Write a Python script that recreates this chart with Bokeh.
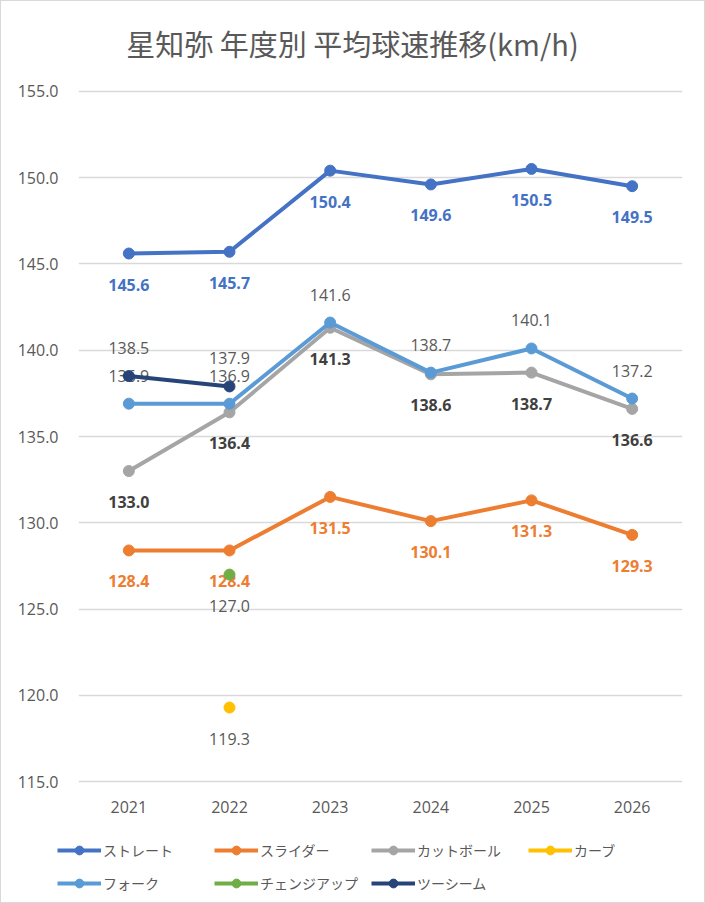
import math
from bokeh.plotting import figure
from bokeh.layouts import column, row
from bokeh.models import (Range1d, FixedTicker, PrintfTickFormatter, Label,
                          Legend, LegendItem, ColumnDataSource)
from bokeh.core.properties import value
from bokeh.embed import file_html
from bokeh.resources import INLINE

NaN = float("nan")

years = ["2021", "2022", "2023", "2024", "2025", "2026"]
straight = [145.6, 145.7, 150.4, 149.6, 150.5, 149.5]
slider = [128.4, 128.4, 131.5, 130.1, 131.3, 129.3]
cutball = [133.0, 136.4, 141.3, 138.6, 138.7, 136.6]
curve = [NaN, 119.3, NaN, NaN, NaN, NaN]
fork = [136.9, 136.9, 141.6, 138.7, 140.1, 137.2]
changeup = [NaN, 127.0, NaN, NaN, NaN, NaN]
twoseam = [138.5, 137.9, NaN, NaN, NaN, NaN]

y_ticks = [115, 120, 125, 130, 135, 140, 145, 150, 155]
title_text = "星知弥 年度別 平均球速推移(km/h)"

series = [
    # name, values, color, label color, label weight, label position
    ("ストレート", straight, "#4472C4", "#4472C4", "bold", "below"),
    ("スライダー", slider, "#ED7D31", "#ED7D31", "bold", "below"),
    ("カットボール", cutball, "#A5A5A5", "#404040", "bold", "below"),
    ("カーブ", curve, "#FFC000", "#595959", "normal", "below"),
    ("フォーク", fork, "#5B9BD5", "#595959", "normal", "above"),
    ("チェンジアップ", changeup, "#70AD47", "#595959", "normal", "below"),
    ("ツーシーム", twoseam, "#264478", "#595959", "normal", "above"),
]

xs = list(range(len(years)))


def strip(h):
    f = figure(width=703, height=h, output_backend="svg", toolbar_location=None,
               x_range=Range1d(0, 703), y_range=Range1d(h, 0),
               x_axis_location=None, y_axis_location=None,
               min_border_left=0, min_border_right=0, min_border_top=0,
               min_border_bottom=0)
    f.outline_line_color = None
    f.xgrid.grid_line_color = None
    f.ygrid.grid_line_color = None
    f.background_fill_color = "white"
    f.border_fill_color = "white"
    return f


# ---- title strip ----
t = strip(62)
t.add_layout(Label(x=351, y=41, text=title_text, text_align="center",
                   text_baseline="middle", text_font="Noto Sans CJK JP",
                   text_font_size="29px", text_color="#595959"))

# ---- main chart ----
p = figure(width=703, height=763, output_backend="svg", toolbar_location=None,
           x_range=Range1d(-0.5, 5.5), y_range=Range1d(114.9, 155.1),
           min_border_left=77, min_border_right=22,
           min_border_top=26, min_border_bottom=43)
p.outline_line_color = None
p.background_fill_color = "white"
p.border_fill_color = "white"

p.xaxis.ticker = FixedTicker(ticks=xs)
p.xaxis.major_label_overrides = {i: y for i, y in enumerate(years)}
p.yaxis.ticker = FixedTicker(ticks=y_ticks)
p.yaxis.formatter = PrintfTickFormatter(format="%.1f")
for ax in (p.xaxis, p.yaxis):
    ax.axis_line_color = None
    ax.major_tick_line_color = None
    ax.minor_tick_line_color = None
    ax.major_tick_out = 0
    ax.major_tick_in = 0
    ax.major_label_text_color = "#595959"
    ax.major_label_text_font = "Open Sans"
    ax.major_label_text_font_size = "16px"
p.yaxis.major_label_standoff = 20
p.xaxis.major_label_standoff = 17
p.xgrid.grid_line_color = None
p.ygrid.grid_line_color = "#D9D9D9"
p.ygrid.grid_line_width = 1.5

# ---- legend strip ----
q = strip(76)

items = []
for name, vals, color, lcolor, lweight, pos in series:
    src = ColumnDataSource(dict(x=xs, y=vals,
                                t=["" if math.isnan(v) else f"{v:.1f}" for v in vals]))
    p.line("x", "y", source=src, line_color=color, line_width=4)
    p.scatter("x", "y", source=src, size=11, fill_color=color, line_color=color)
    p.text("x", "y", text="t", source=src, text_color=lcolor,
           text_font=value("Open Sans"), text_font_size="16px",
           text_font_style=lweight, text_align="center", text_baseline="middle",
           y_offset=31 if pos == "below" else -28)
    # legend glyph renderers (same data, outside the strip's view)
    lr = q.line("x", "y", source=src, line_color=color, line_width=4)
    sr = q.scatter("x", "y", source=src, size=11, fill_color=color, line_color=color)
    items.append(LegendItem(label=name, renderers=[lr, sr]))

legend = Legend(items=items, location=(56, 8), orientation="horizontal",
                ncols=4, glyph_width=44, glyph_height=22, label_height=22,
                label_width=100, label_standoff=2, spacing=11, padding=0, margin=0,
                label_text_font="Noto Sans CJK JP", label_text_font_size="14px",
                label_text_color="#595959", border_line_color=None,
                background_fill_alpha=0)
q.add_layout(legend)

page = column(row(t), p, row(q), spacing=0,
              styles={"border": "1px solid #D9D9D9"})

open("out.html", "w").write(file_html(page, INLINE))
